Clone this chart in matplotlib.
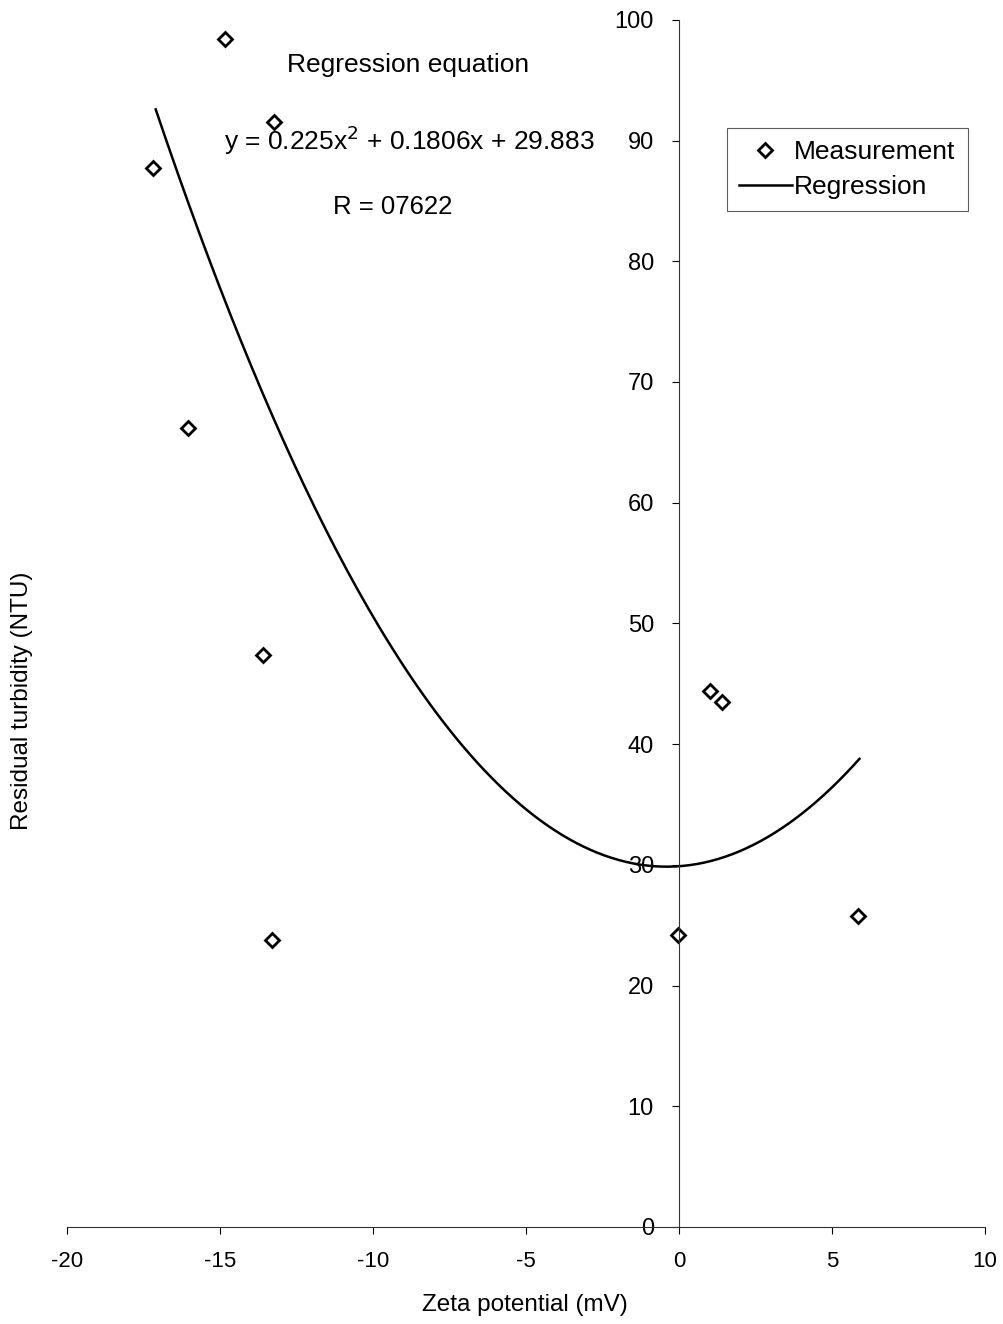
import numpy as np
import matplotlib
matplotlib.use('Agg')
import matplotlib.pyplot as plt

plt.rcParams['font.family'] = ['Liberation Sans', 'DejaVu Sans']
plt.rcParams['axes.unicode_minus'] = False

zeta = [-17.2, -14.85, -13.25, -16.05, -13.6, -13.3, -0.03, 1.0, 1.4, 5.85]
turbidity = [87.7, 98.4, 91.5, 66.2, 47.4, 23.8, 24.2, 44.4, 43.5, 25.8]

# regression coefficients (from the equation on the chart)
a, b, c = 0.225, 0.1806, 29.883
x_fit = np.linspace(-17.1, 5.9, 200)
y_fit = a * x_fit ** 2 + b * x_fit + c

fig = plt.figure(figsize=(10.04, 13.24), dpi=100)
ax = fig.add_axes([0.0667, 0.0733, 0.9143, 0.9117])

ax.plot(zeta, turbidity, linestyle='none', marker='D', markersize=7.5,
        markerfacecolor='white', markeredgecolor='black', markeredgewidth=2,
        label='Measurement')
ax.plot(x_fit, y_fit, color='black', linewidth=1.8, label='Regression')

ax.set_xlim(-20, 10)
ax.set_ylim(0, 100)
ax.set_xticks(range(-20, 11, 5))
ax.set_yticks(range(0, 101, 10))

ax.spines['left'].set_position(('data', 0))
ax.spines['right'].set_visible(False)
ax.spines['top'].set_visible(False)
for s in ['left', 'bottom']:
    ax.spines[s].set_linewidth(0.8)
    ax.spines[s].set_color('#333333')
ax.tick_params(direction='out', length=5, width=0.8)
ax.tick_params(axis='x', labelsize=16, pad=12)
ax.tick_params(axis='y', labelsize=17, pad=13)

ax.text(-8.85, 96.3, 'Regression equation', fontsize=19, ha='center', va='center')
ax.text(-8.8, 90.0, r'y = 0.225x$^2$ + 0.1806x + 29.883', fontsize=19,
        ha='center', va='center')
ax.text(-9.35, 84.5, 'R = 07622', fontsize=18.5, ha='center', va='center')

fig.text(0.022, 0.471, 'Residual turbidity (NTU)', rotation=90, fontsize=17.5,
         ha='center', va='center')
fig.text(0.523, 0.014, 'Zeta potential (mV)', fontsize=17.5, ha='center', va='center')

leg = ax.legend(loc='upper left', bbox_to_anchor=(0.719, 0.91), fontsize=19,
                frameon=True, fancybox=False, edgecolor='#333333',
                borderaxespad=0, borderpad=0.45, handlelength=2.0,
                handletextpad=0.1, labelspacing=0.4)
leg.get_frame().set_linewidth(0.8)

plt.savefig('out.png', dpi=100)
